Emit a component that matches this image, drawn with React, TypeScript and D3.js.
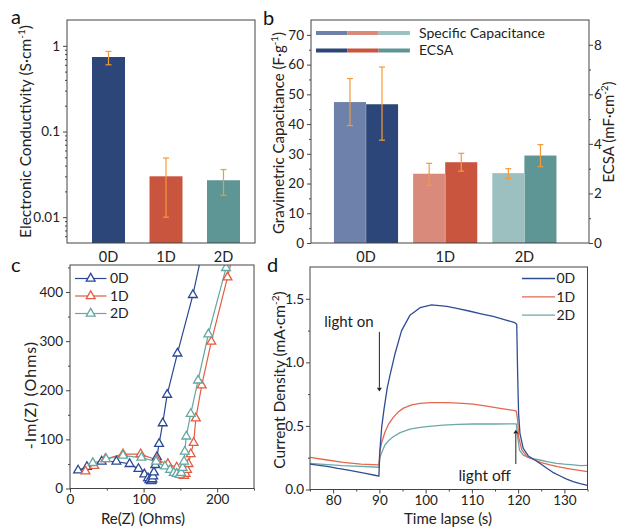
import React, { useRef, useEffect } from 'react';
import * as d3 from 'd3';

// categories
const groups = ['0D', '1D', '2D'];

// panel a: electronic conductivity (S/cm)
const conductivity = [0.74, 0.03, 0.027];
const conductivityLow = [0.6, 0.01, 0.018];
const conductivityHigh = [0.86, 0.049, 0.036];

// panel b: specific capacitance (F/g) and ECSA (mF/cm2)
const specificCap = [47.4, 23.3, 23.5];
const specificCapLow = [39.5, 19.4, 21.7];
const specificCapHigh = [55.3, 26.8, 25.0];
const ecsa = [5.6, 3.26, 3.53];
const ecsaLow = [4.15, 2.9, 3.08];
const ecsaHigh = [7.1, 3.62, 3.97];

// panel c: Nyquist plot [Re(Z), -Im(Z)]
const nyquist0D = [
  [11, 37], [23, 44], [43, 55], [63, 55], [81, 50], [93, 40], [101, 29], [106, 21], [108, 17], [110, 15],
  [111, 16], [112, 19], [113, 25], [114, 33], [116, 48], [118, 64], [121, 91], [126, 133], [132, 191],
  [146, 275], [167, 394], [185, 520],
];
const nyquist1D = [
  [21, 35], [33, 46], [48, 60], [72, 70], [96, 70], [118, 58], [133, 50], [145, 43], [150, 33], [153, 27],
  [155, 26], [157, 30], [159, 38], [161, 50], [164, 70], [168, 93], [171, 143], [179, 210], [192, 299],
  [214, 430], [222, 480],
];
const nyquist2D = [
  [31, 52], [49, 60], [72, 67], [97, 63], [117, 55], [129, 45], [136, 38], [141, 32], [145, 30], [149, 28],
  [151, 32], [153, 42], [155, 55], [156, 75], [158, 106], [164, 152], [174, 220], [188, 314], [212, 449],
  [218, 490],
];

// panel d: photocurrent transients [time (s), current density (mA/cm2)]
const transient0D = [
  [75, 0.2], [77, 0.19], [79, 0.18], [81, 0.166], [83, 0.155], [85, 0.14], [87, 0.126], [89, 0.112],
  [89.9, 0.106], [90.1, 0.3], [90.5, 0.49], [91, 0.63], [91.7, 0.8], [92.3, 0.9], [93.4, 1.07], [94.8, 1.25],
  [96.6, 1.37], [98.8, 1.43], [101.3, 1.452], [104.6, 1.44], [107, 1.422], [109.6, 1.402], [112, 1.382],
  [114.6, 1.362], [117, 1.337], [119.3, 1.312], [119.7, 1.3], [119.9, 0.9], [120.1, 0.6], [120.4, 0.44],
  [121.1, 0.324], [122.2, 0.264], [123.6, 0.232], [125, 0.198], [126.2, 0.167], [127.5, 0.135],
  [129.1, 0.106], [130.5, 0.082], [131.9, 0.062], [133.4, 0.047], [135, 0.033],
];
const transient1D = [
  [75, 0.253], [78, 0.236], [82.2, 0.214], [86, 0.2], [89.9, 0.193], [90.1, 0.3], [90.5, 0.37], [91.2, 0.45],
  [92, 0.515], [93, 0.567], [94, 0.607], [95.2, 0.64], [97, 0.665], [98.8, 0.678], [101, 0.683], [103.8, 0.684],
  [106, 0.681], [108, 0.677], [110.3, 0.671], [113.2, 0.655], [116.1, 0.638], [119.3, 0.621], [119.6, 0.617],
  [119.9, 0.547], [120.1, 0.415], [120.8, 0.31], [121.9, 0.258], [123.6, 0.232], [125, 0.211], [126.9, 0.193],
  [128.5, 0.18], [130.5, 0.167], [132.5, 0.155], [135, 0.14],
];
const transient2D = [
  [75, 0.206], [78, 0.198], [82, 0.188], [86, 0.182], [89.9, 0.175], [90.1, 0.25], [90.5, 0.29], [91.2, 0.35],
  [92, 0.385], [93, 0.415], [94.5, 0.447], [96.6, 0.474], [98.5, 0.487], [100.2, 0.495], [103.8, 0.507],
  [107, 0.512], [110.3, 0.515], [115, 0.515], [119.6, 0.516], [119.8, 0.44], [120.3, 0.31], [121.1, 0.27],
  [122.6, 0.246], [124.7, 0.232], [126.5, 0.218], [128.3, 0.206], [130, 0.199], [131.9, 0.193],
  [133.5, 0.188], [135, 0.19],
];

const darkColors = ['#2c4679', '#c9553f', '#5e9695'];
const lightColors = ['#6e81aa', '#d98a7a', '#9cbfbf'];
const lineColors = ['#2b4896', '#e35c41', '#63a8a4'];
const errColor = '#f39a3a';
const font = 'Lato, sans-serif';
const textColor = '#222';
const axisColor = '#444';

const styleAxis = (g) => {
  g.select('.domain').remove();
  g.selectAll('text')
    .attr('font-family', font)
    .attr('font-size', 13.5)
    .attr('fill', textColor);
  g.selectAll('line').attr('stroke', axisColor);
};

const addTitle = (g, x, y, rot, main, sup = null, tail = '', size = 15, spacing = 0) => {
  const t = g.append('text')
    .attr('transform', `translate(${x},${y}) rotate(${rot})`)
    .attr('text-anchor', 'middle')
    .attr('font-family', font)
    .attr('font-size', size)
    .attr('letter-spacing', spacing)
    .attr('fill', textColor)
    .attr('dy', '0.35em');
  t.append('tspan').text(main);
  if (sup) {
    t.append('tspan').attr('font-size', size * 0.65).attr('dy', -size * 0.42).text(sup);
    t.append('tspan').attr('dy', size * 0.42).text(tail);
  }
};

const frame = (g, x0, x1, y0, y1) => {
  g.append('rect')
    .attr('x', x0).attr('y', y0)
    .attr('width', x1 - x0).attr('height', y1 - y0)
    .attr('fill', 'none')
    .attr('stroke', axisColor)
    .attr('stroke-width', 1);
};

const errorBar = (g, x, yLo, yHi, cap) => {
  g.append('line').attr('x1', x).attr('x2', x).attr('y1', yLo).attr('y2', yHi)
    .attr('stroke', errColor).attr('stroke-width', 1.2);
  [yLo, yHi].forEach(y => {
    g.append('line').attr('x1', x - cap).attr('x2', x + cap).attr('y1', y).attr('y2', y)
      .attr('stroke', errColor).attr('stroke-width', 1.2);
  });
};

const panelLetter = (svg, x, y, s) => {
  svg.append('text').attr('x', x).attr('y', y)
    .attr('font-family', font).attr('font-size', 20).attr('fill', '#111').text(s);
};

const App = () => {
  const svgRef = useRef(null);

  useEffect(() => {
    const svg = d3.select(svgRef.current);
    svg.selectAll('*').remove();

    // ---------- panel a ----------
    const a = svg.append('g');
    const ax = d3.scaleBand().domain(groups).range([79.75, 252.25]).paddingInner(0.426).paddingOuter(0.213);
    const ay = d3.scaleLog().domain([0.005, 2]).range([243, 20]);

    groups.forEach((gname, i) => {
      a.append('rect')
        .attr('x', ax(gname)).attr('y', ay(conductivity[i]))
        .attr('width', ax.bandwidth()).attr('height', 243 - ay(conductivity[i]))
        .attr('fill', darkColors[i]);
      errorBar(a, ax(gname) + ax.bandwidth() / 2, ay(conductivityLow[i]), ay(conductivityHigh[i]), 3);
    });

    const aMinor = [];
    [0.001, 0.01, 0.1, 1].forEach(dec => {
      for (let k = 2; k <= 9; k++) {
        const v = dec * k;
        if (v > 0.005 && v < 2) aMinor.push(v);
      }
    });
    a.append('g').attr('transform', 'translate(67,0)')
      .call(d3.axisLeft(ay).tickValues([0.01, 0.1, 1]).tickFormat(d3.format('~g')).tickSize(4).tickPadding(3))
      .call(styleAxis);
    a.append('g').attr('transform', 'translate(67,0)')
      .call(d3.axisLeft(ay).tickValues(aMinor).tickFormat(() => '').tickSize(2))
      .call(styleAxis);
    groups.forEach(gname => {
      a.append('text').attr('x', ax(gname) + ax.bandwidth() / 2).attr('y', 256.5).attr('dy', '0.35em')
        .attr('text-anchor', 'middle').attr('font-family', font).attr('font-size', 14.5).attr('fill', textColor)
        .text(gname);
    });
    frame(a, 67, 255, 20, 243);
    addTitle(a, 26, 131.5, -90, 'Electronic Conductivity (S·cm', '-1', ')', 15.5);

    // ---------- panel b ----------
    const b = svg.append('g');
    const bx = d3.scaleBand().domain(groups).range([326.4, 564]).paddingInner(0.19).paddingOuter(0.095);
    const bsub = d3.scaleBand().domain(['spec', 'ecsa']).range([0, bx.bandwidth()]);
    const byL = d3.scaleLinear().domain([0, 75]).range([243, 20]);
    const byR = d3.scaleLinear().domain([0, 9]).range([243, 20]);

    groups.forEach((gname, i) => {
      const xs = bx(gname) + bsub('spec');
      const xe = bx(gname) + bsub('ecsa');
      b.append('rect').attr('x', xs).attr('y', byL(specificCap[i]))
        .attr('width', bsub.bandwidth()).attr('height', 243 - byL(specificCap[i]))
        .attr('fill', lightColors[i]);
      b.append('rect').attr('x', xe).attr('y', byR(ecsa[i]))
        .attr('width', bsub.bandwidth()).attr('height', 243 - byR(ecsa[i]))
        .attr('fill', darkColors[i]);
      b.append('line').attr('x1', xe).attr('x2', xe).attr('y1', Math.max(byL(specificCap[i]), byR(ecsa[i]))).attr('y2', 243)
        .attr('stroke', '#ffffff').attr('stroke-opacity', 0.35).attr('stroke-width', 0.8);
      errorBar(b, xs + bsub.bandwidth() / 2, byL(specificCapLow[i]), byL(specificCapHigh[i]), 3);
      errorBar(b, xe + bsub.bandwidth() / 2, byR(ecsaLow[i]), byR(ecsaHigh[i]), 3);
      b.append('text').attr('x', bx(gname) + bx.bandwidth() / 2).attr('y', 256.5).attr('dy', '0.35em')
        .attr('text-anchor', 'middle').attr('font-family', font).attr('font-size', 14.5).attr('fill', textColor)
        .text(gname);
    });

    b.append('g').attr('transform', 'translate(311,0)')
      .call(d3.axisLeft(byL).tickValues(d3.range(0, 71, 10)).tickSize(4).tickPadding(3))
      .call(styleAxis);
    b.append('g').attr('transform', 'translate(311,0)')
      .call(d3.axisLeft(byL).tickValues(d3.range(5, 71, 10)).tickFormat(() => '').tickSize(2))
      .call(styleAxis);
    b.append('g').attr('transform', 'translate(589,0)')
      .call(d3.axisRight(byR).tickValues([0, 2, 4, 6, 8]).tickSize(4).tickPadding(1))
      .call(styleAxis);
    b.append('g').attr('transform', 'translate(589,0)')
      .call(d3.axisRight(byR).tickValues([1, 3, 5, 7]).tickFormat(() => '').tickSize(2))
      .call(styleAxis);
    frame(b, 311, 589, 20, 243);
    addTitle(b, 279, 133, -90, 'Gravimetric Capacitance (F·g', '-1', ')', 15);
    addTitle(b, 609, 132, -90, 'ECSA (mF·cm', '-2', ')', 15);

    // legend b
    const legendRows = [
      { label: 'Specific Capacitance', colors: lightColors, y: 33 },
      { label: 'ECSA', colors: darkColors, y: 50.5 },
    ];
    legendRows.forEach(row => {
      row.colors.forEach((c, k) => {
        b.append('rect').attr('x', 316 + k * 31.3).attr('y', row.y - 2).attr('width', 31.3).attr('height', 4)
          .attr('fill', c);
      });
      b.append('text').attr('x', 419).attr('y', row.y).attr('dy', '0.35em')
        .attr('font-family', font).attr('font-size', 14).attr('fill', textColor).text(row.label);
    });

    // ---------- panel c ----------
    const c = svg.append('g');
    const cx = d3.scaleLinear().domain([0, 250]).range([70, 254]);
    const cy = d3.scaleLinear().domain([0, 455]).range([488.5, 265]);
    svg.append('clipPath').attr('id', 'clipC').append('rect')
      .attr('x', 70).attr('y', 265).attr('width', 184).attr('height', 223.5);
    const cPlot = c.append('g').attr('clip-path', 'url(#clipC)');
    const cLine = d3.line().x(d => cx(d[0])).y(d => cy(d[1]));
    const tri = d3.symbol(d3.symbolTriangle, 34);
    const nyq = [nyquist0D, nyquist1D, nyquist2D];
    nyq.forEach((series, i) => {
      cPlot.append('path').attr('d', cLine(series)).attr('fill', 'none')
        .attr('stroke', lineColors[i]).attr('stroke-width', 1.2);
    });
    nyq.forEach((series, i) => {
      cPlot.selectAll(null).data(series).enter().append('path')
        .attr('d', tri())
        .attr('transform', d => `translate(${cx(d[0])},${cy(d[1])})`)
        .attr('fill', '#fff')
        .attr('stroke', lineColors[i]).attr('stroke-width', 1.3);
    });
    c.append('g').attr('transform', 'translate(70,0)')
      .call(d3.axisLeft(cy).tickValues([0, 100, 200, 300, 400]).tickSize(4).tickPadding(3))
      .call(styleAxis);
    c.append('g').attr('transform', 'translate(70,0)')
      .call(d3.axisLeft(cy).tickValues([50, 150, 250, 350, 450]).tickFormat(() => '').tickSize(2))
      .call(styleAxis);
    c.append('g').attr('transform', 'translate(0,488.5)')
      .call(d3.axisBottom(cx).tickValues([0, 100, 200]).tickSize(4).tickPadding(2))
      .call(styleAxis);
    c.append('g').attr('transform', 'translate(0,488.5)')
      .call(d3.axisBottom(cx).tickValues([50, 150, 250]).tickFormat(() => '').tickSize(2))
      .call(styleAxis);
    frame(c, 70, 254, 265, 488.5);
    addTitle(c, 30, 395, -90, '-Im(Z) (Ohms)', null, '', 16, 1);
    addTitle(c, 143, 518.5, 0, 'Re(Z) (Ohms)', null, '', 15);

    // legend c
    groups.forEach((gname, i) => {
      const y = 278.5 + i * 17.5;
      c.append('line').attr('x1', 75).attr('x2', 106.5).attr('y1', y).attr('y2', y)
        .attr('stroke', lineColors[i]).attr('stroke-width', 1.2);
      c.append('path').attr('d', tri()).attr('transform', `translate(90.7,${y})`)
        .attr('fill', '#fff').attr('stroke', lineColors[i]).attr('stroke-width', 1.3);
      c.append('text').attr('x', 110).attr('y', y).attr('dy', '0.35em')
        .attr('font-family', font).attr('font-size', 14).attr('fill', textColor).text(gname);
    });

    // ---------- panel d ----------
    const dG = svg.append('g');
    const dx = d3.scaleLinear().domain([75, 135]).range([310, 587.5]);
    const dy = d3.scaleLinear().domain([0, 1.75]).range([489.5, 267]);
    svg.append('clipPath').attr('id', 'clipD').append('rect')
      .attr('x', 310).attr('y', 267).attr('width', 277.5).attr('height', 222.5);
    const dPlot = dG.append('g').attr('clip-path', 'url(#clipD)');
    const dLine = d3.line().x(d => dx(d[0])).y(d => dy(d[1]));
    const dColors = ['#2f4c94', '#e2694f', '#6aa9a5'];
    [transient2D, transient1D, transient0D].forEach((series, k) => {
      const i = 2 - k;
      dPlot.append('path').attr('d', dLine(series)).attr('fill', 'none')
        .attr('stroke', dColors[i]).attr('stroke-width', 1.3).attr('stroke-linejoin', 'round');
    });
    dG.append('g').attr('transform', 'translate(310,0)')
      .call(d3.axisLeft(dy).tickValues([0, 0.5, 1, 1.5]).tickFormat(d3.format('.1f')).tickSize(4).tickPadding(2))
      .call(styleAxis);
    dG.append('g').attr('transform', 'translate(310,0)')
      .call(d3.axisLeft(dy).tickValues([0.25, 0.75, 1.25]).tickFormat(() => '').tickSize(2))
      .call(styleAxis);
    dG.append('g').attr('transform', 'translate(0,489.5)')
      .call(d3.axisBottom(dx).tickValues(d3.range(80, 131, 10)).tickSize(4).tickPadding(2))
      .call(styleAxis);
    dG.append('g').attr('transform', 'translate(0,489.5)')
      .call(d3.axisBottom(dx).tickValues(d3.range(75, 136, 10)).tickFormat(() => '').tickSize(2))
      .call(styleAxis);
    frame(dG, 310, 587.5, 267, 489.5);
    addTitle(dG, 280, 380, -90, 'Current Density (mA·cm', '-2', ')', 15.5);
    addTitle(dG, 448, 518.5, 0, 'Time lapse (s)', null, '', 15);

    // legend d
    groups.forEach((gname, i) => {
      const y = 278.5 + i * 18.3;
      dG.append('line').attr('x1', 522).attr('x2', 555).attr('y1', y).attr('y2', y)
        .attr('stroke', dColors[i]).attr('stroke-width', 1.3);
      dG.append('text').attr('x', 556.5).attr('y', y).attr('dy', '0.35em')
        .attr('font-family', font).attr('font-size', 14).attr('fill', textColor).text(gname);
    });

    // annotations
    dG.append('text').attr('x', dx(78.1)).attr('y', 326.5)
      .attr('font-family', font).attr('font-size', 15).attr('fill', textColor).text('light on');
    dG.append('line').attr('x1', dx(90)).attr('x2', dx(90)).attr('y1', dy(1.24)).attr('y2', dy(0.8))
      .attr('stroke', '#222').attr('stroke-width', 1);
    dG.append('path')
      .attr('d', `M${dx(90) - 2.5},${dy(0.8)} L${dx(90) + 2.5},${dy(0.8)} L${dx(90)},${dy(0.77)} Z`)
      .attr('fill', '#222');
    dG.append('text').attr('x', dx(107.1)).attr('y', 481)
      .attr('font-family', font).attr('font-size', 15.5).attr('fill', textColor).text('light off');
    dG.append('line').attr('x1', dx(119.5)).attr('x2', dx(119.5)).attr('y1', dy(0.2)).attr('y2', dy(0.44))
      .attr('stroke', '#222').attr('stroke-width', 1);
    dG.append('path')
      .attr('d', `M${dx(119.5) - 2.5},${dy(0.44)} L${dx(119.5) + 2.5},${dy(0.44)} L${dx(119.5)},${dy(0.47)} Z`)
      .attr('fill', '#222');

    panelLetter(svg, 11, 24, 'a');
    panelLetter(svg, 263, 25, 'b');
    panelLetter(svg, 11, 272, 'c');
    panelLetter(svg, 267, 272, 'd');
  }, []);

  return (
    <svg ref={svgRef} width={622} height={527}
      style={{ position: 'absolute', left: 0, top: 0, display: 'block', background: '#fff' }} />
  );
};

export default App;
